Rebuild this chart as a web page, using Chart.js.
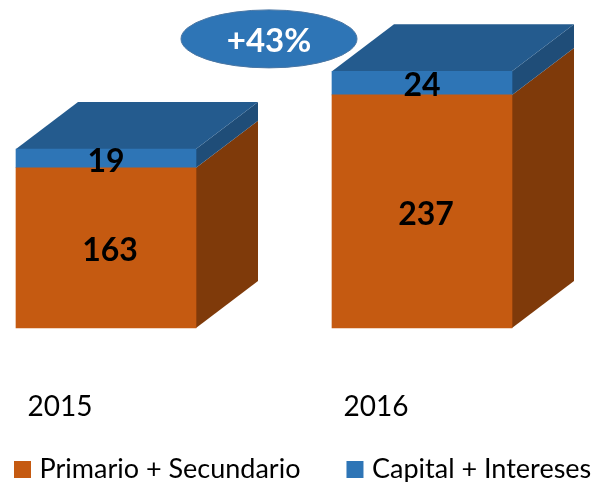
<!DOCTYPE html>
<html>
<head>
<meta charset="utf-8">
<style>html,body{margin:0;padding:0;background:#fff;overflow:hidden}canvas{display:block}</style>
<script src="https://cdn.jsdelivr.net/npm/chart.js@4/dist/chart.umd.min.js"></script>
</head>
<body>
<canvas id="c" width="591" height="482"></canvas>
<script>
const categories = ['2015', '2016'];
const primarioSecundario = [163, 237];
const capitalIntereses = [19, 24];
const seriesNames = ['Primario + Secundario', 'Capital + Intereses'];
const changeLabel = '+43%';

const FONT = 'Lato, Carlito, sans-serif';
const ORANGE = '#c55a11', ORANGE_SIDE = '#7f3a0a';
const BLUE = '#2e75b6', BLUE_SIDE = '#1f4d78', BLUE_TOP = '#245b8e';
const DX = 62, DY = 47;

function poly(ctx, pts, color) {
  ctx.beginPath();
  pts.forEach((p, i) => i ? ctx.lineTo(p[0], p[1]) : ctx.moveTo(p[0], p[1]));
  ctx.closePath();
  ctx.fillStyle = color;
  ctx.fill();
}

const box3d = {
  id: 'box3d',
  beforeDatasetsDraw(chart) {
    const ctx = chart.ctx;
    ctx.save();
    const sides = [ORANGE_SIDE, BLUE_SIDE];
    chart.data.datasets.forEach((ds, di) => {
      chart.getDatasetMeta(di).data.forEach(b => {
        const r = b.x + b.width / 2, t = b.y, bo = b.base;
        poly(ctx, [[r, t], [r + DX, t - DY], [r + DX, bo - DY], [r, bo]], sides[di]);
        if (di === chart.data.datasets.length - 1) {
          const l = b.x - b.width / 2;
          poly(ctx, [[l, t], [l + DX, t - DY], [r + DX, t - DY], [r, t]], BLUE_TOP);
        }
      });
    });
    ctx.restore();
  },
  afterDatasetsDraw(chart) {
    const ctx = chart.ctx;
    ctx.save();
    ctx.textAlign = 'center';
    ctx.textBaseline = 'middle';
    ctx.font = 'bold 32px ' + FONT;
    ctx.fillStyle = '#000';
    chart.data.datasets.forEach((ds, di) => {
      chart.getDatasetMeta(di).data.forEach((b, i) => {
        const cy = (b.y + b.base) / 2 + 3;
        ctx.fillText(String(ds.data[i]), b.x + (di === 0 ? 4 : 0), cy);
      });
    });
    // change bubble
    const xs = chart.scales.x, ys = chart.scales.y;
    const cx = (xs.getPixelForValue(0) + xs.getPixelForValue(1)) / 2 + 5;
    const cy = ys.getPixelForValue(294);
    ctx.beginPath();
    ctx.ellipse(cx, cy, 88, 29, 0, 0, Math.PI * 2);
    ctx.fillStyle = BLUE;
    ctx.fill();
    ctx.lineWidth = 1;
    ctx.strokeStyle = '#4a76a3';
    ctx.stroke();
    ctx.font = 'bold 33px ' + FONT;
    ctx.fillStyle = '#fff';
    ctx.fillText(changeLabel, cx, cy + 2);
    ctx.restore();
  },
  beforeLayout(chart) {
    const l = chart.legend;
    if (l && !l._wrapped) {
      const f = l.fit;
      l.fit = function () { this.maxWidth = 900; f.call(this); this.height = 30; };
      l._wrapped = true;
    }
  },
  afterLayout(chart) {
    const l = chart.legend;
    const pad = l.options.labels.padding;
    l.left = 19 - pad;
    l.right = 900;
    l.top = 456 - pad;
  }
};

new Chart(document.getElementById('c'), {
  type: 'bar',
  data: {
    labels: categories,
    datasets: [
      { label: seriesNames[0], data: primarioSecundario, backgroundColor: ORANGE, borderWidth: 0, clip: false, barThickness: 180, yAxisID: 'y' },
      { label: seriesNames[1], data: capitalIntereses, backgroundColor: BLUE, borderWidth: 0, clip: false, barThickness: 180, yAxisID: 'y' }
    ]
  },
  plugins: [box3d],
  options: {
    responsive: false,
    animation: false,
    devicePixelRatio: 1,
    layout: { padding: { top: 32, left: 0, right: 0, bottom: 0 } },
    plugins: {
      tooltip: { enabled: false },
      legend: {
        position: 'bottom',
        align: 'start',
        labels: {
          boxWidth: 7, boxHeight: 7, padding: 51,
          color: '#000',
          font: { family: FONT, size: 27 },
          generateLabels(chart) {
            return Chart.defaults.plugins.legend.labels.generateLabels(chart)
              .map(i => ({ ...i, lineWidth: 10, strokeStyle: i.fillStyle }));
          }
        }
      }
    },
    scales: {
      x: {
        stacked: true,
        offset: false,
        grid: { display: false, drawTicks: false },
        border: { display: false },
        afterFit(s) { s.height = 124; },
        ticks: {
          color: '#000', padding: 62, labelOffset: -46,
          autoSkip: false, maxRotation: 0,
          font: { family: FONT, size: 28 }
        }
      },
      y: {
        stacked: true, min: 0, max: 301, position: 'left',
        grid: { display: false, drawTicks: false },
        border: { display: false },
        ticks: { display: false },
        afterFit(s) { s.width = 106; }
      },
      yRight: {
        min: 0, max: 301, position: 'right',
        grid: { display: false, drawTicks: false },
        border: { display: false },
        ticks: { display: false },
        afterFit(s) { s.width = 169; }
      }
    }
  }
});
</script>
</body>
</html>
